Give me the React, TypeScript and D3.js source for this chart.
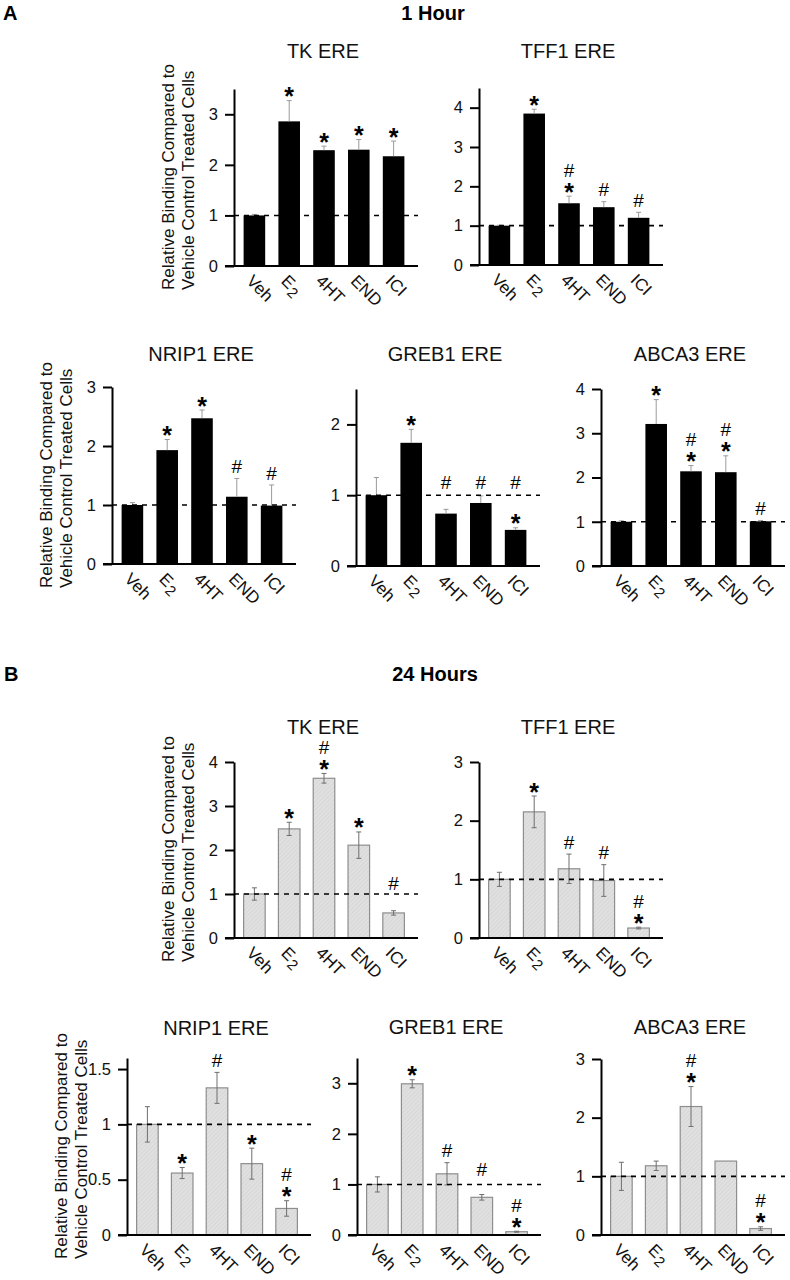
import { useRef, useEffect } from 'react';
import * as d3 from 'd3';

const categories = ['Veh', 'E2', '4HT', 'END', 'ICI'];

// 1 hour (black bars, upper error only)
const h1TkMean = [1.0, 2.86, 2.29, 2.3, 2.17];
const h1TkErr = [0.02, 0.41, 0.08, 0.2, 0.3];
const h1TkMarks = ['', '*', '*', '*', '*'];

const h1Tff1Mean = [1.0, 3.85, 1.57, 1.47, 1.2];
const h1Tff1Err = [0.01, 0.11, 0.18, 0.14, 0.14];
const h1Tff1Marks = ['', '*', '#*', '#', '#'];

const h1Nrip1Mean = [1.0, 1.93, 2.47, 1.14, 0.99];
const h1Nrip1Err = [0.04, 0.18, 0.14, 0.31, 0.35];
const h1Nrip1Marks = ['', '*', '*', '#', '#'];

const h1Greb1Mean = [1.0, 1.74, 0.74, 0.89, 0.51];
const h1Greb1Err = [0.25, 0.19, 0.06, 0.1, 0.03];
const h1Greb1Marks = ['', '*', '#', '#', '#*'];
const h1Greb1HashAt = [null, null, 1.18, 1.18, 1.18];

const h1Abca3Mean = [1.0, 3.21, 2.14, 2.12, 1.01];
const h1Abca3Err = [0.02, 0.55, 0.13, 0.37, 0.02];
const h1Abca3Marks = ['', '*', '#*', '#*', '#'];

// 24 hours (hatched bars, +/- error)
const h24TkMean = [1.0, 2.48, 3.63, 2.11, 0.57];
const h24TkErr = [0.14, 0.15, 0.11, 0.3, 0.05];
const h24TkMarks = ['', '*', '#*', '*', '#'];
const h24TkHashAt = [null, null, null, null, 1.23];

const h24Tff1Mean = [1.0, 2.15, 1.18, 0.98, 0.17];
const h24Tff1Err = [0.12, 0.27, 0.25, 0.27, 0.015];
const h24Tff1Marks = ['', '*', '#', '#', '#*'];

const h24Nrip1Mean = [1.0, 0.56, 1.33, 0.645, 0.24];
const h24Nrip1Err = [0.16, 0.05, 0.14, 0.14, 0.07];
const h24Nrip1Marks = ['', '*', '#', '*', '#*'];

const h24Greb1Mean = [1.0, 2.99, 1.21, 0.745, 0.065];
const h24Greb1Err = [0.15, 0.08, 0.22, 0.055, 0.01];
const h24Greb1Marks = ['', '*', '#', '#', '#*'];
const h24Greb1HashAt = [null, null, null, 1.29, null];

const h24Abca3Mean = [1.0, 1.18, 2.19, 1.26, 0.11];
const h24Abca3Err = [0.24, 0.08, 0.34, 0, 0.03];
const h24Abca3Marks = ['', '', '#*', '', '#*'];

const FONT = 'Liberation Sans, Arial, Helvetica, sans-serif';

const panels = [
  { title: 'TK ERE', titleY: 58, axisX: 234, y0: 266, yTop: 89, yMax: 3.5, ticks: [0, 1, 2, 3], mean: h1TkMean, err: h1TkErr, marks: h1TkMarks, yLabel: true, solid: true },
  { title: 'TFF1 ERE', titleY: 58, axisX: 479, y0: 265, yTop: 88, yMax: 4.5, ticks: [0, 1, 2, 3, 4], mean: h1Tff1Mean, err: h1Tff1Err, marks: h1Tff1Marks, solid: true },
  { title: 'NRIP1 ERE', titleY: 361, axisX: 112, y0: 564, yTop: 387, yMax: 3, ticks: [0, 1, 2, 3], mean: h1Nrip1Mean, err: h1Nrip1Err, marks: h1Nrip1Marks, yLabel: true, solid: true },
  { title: 'GREB1 ERE', titleY: 361, axisX: 356, y0: 566, yTop: 389, yMax: 2.5, ticks: [0, 1, 2], mean: h1Greb1Mean, err: h1Greb1Err, marks: h1Greb1Marks, hashAt: h1Greb1HashAt, solid: true },
  { title: 'ABCA3 ERE', titleY: 361, axisX: 601, y0: 566, yTop: 389, yMax: 4, ticks: [0, 1, 2, 3, 4], mean: h1Abca3Mean, err: h1Abca3Err, marks: h1Abca3Marks, solid: true },
  { title: 'TK ERE', titleY: 734, axisX: 234, y0: 938, yTop: 762, yMax: 4, ticks: [0, 1, 2, 3, 4], mean: h24TkMean, err: h24TkErr, marks: h24TkMarks, hashAt: h24TkHashAt, yLabel: true },
  { title: 'TFF1 ERE', titleY: 734, axisX: 479, y0: 938, yTop: 762, yMax: 3, ticks: [0, 1, 2, 3], mean: h24Tff1Mean, err: h24Tff1Err, marks: h24Tff1Marks },
  { title: 'NRIP1 ERE', titleY: 1035, axisX: 127, y0: 1235, yTop: 1058, yMax: 1.6, ticks: [0, 0.5, 1, 1.5], mean: h24Nrip1Mean, err: h24Nrip1Err, marks: h24Nrip1Marks, yLabel: true },
  { title: 'GREB1 ERE', titleY: 1034, axisX: 357, y0: 1235, yTop: 1058, yMax: 3.5, ticks: [0, 1, 2, 3], mean: h24Greb1Mean, err: h24Greb1Err, marks: h24Greb1Marks, hashAt: h24Greb1HashAt },
  { title: 'ABCA3 ERE', titleY: 1034, axisX: 601, y0: 1235, yTop: 1059, yMax: 3, ticks: [0, 1, 2, 3], mean: h24Abca3Mean, err: h24Abca3Err, marks: h24Abca3Marks },
];

function drawPanel(svg: any, p: any) {
  const x = d3.scaleBand().domain(categories).range([p.axisX + 3, p.axisX + 177]).paddingInner(0.38).paddingOuter(0.19);
  const y = d3.scaleLinear().domain([0, p.yMax]).range([p.y0, p.yTop]);
  const g = svg.append('g');
  const cx = (i: number) => (x(categories[i]) as number) + x.bandwidth() / 2;

  g.selectAll('rect')
    .data(p.mean)
    .join('rect')
    .attr('x', (_d: number, i: number) => x(categories[i]))
    .attr('y', (d: number) => y(d))
    .attr('width', x.bandwidth())
    .attr('height', (d: number) => y(0) - y(d))
    .attr('fill', p.solid ? '#000' : 'url(#hatch)')
    .attr('stroke', p.solid ? 'none' : '#8e8e8e')
    .attr('stroke-width', 1.2);

  // error bars
  const eg = g.append('g').attr('stroke', p.solid ? '#9a9a9a' : '#6e6e6e').attr('stroke-width', 1);
  p.mean.forEach((m: number, i: number) => {
    const e = p.err[i];
    if (!e) return;
    const lo = p.solid ? m : m - e;
    const hi = m + e;
    const c = cx(i);
    eg.append('line').attr('x1', c).attr('x2', c).attr('y1', y(lo)).attr('y2', y(hi));
    eg.append('line').attr('x1', c - 2.5).attr('x2', c + 2.5).attr('y1', y(hi)).attr('y2', y(hi));
    if (!p.solid) eg.append('line').attr('x1', c - 2.5).attr('x2', c + 2.5).attr('y1', y(lo)).attr('y2', y(lo));
  });

  // reference line at 1
  g.append('line')
    .attr('x1', p.axisX).attr('x2', p.axisX + 184)
    .attr('y1', y(1)).attr('y2', y(1))
    .attr('stroke', '#000').attr('stroke-width', 1.6).attr('stroke-dasharray', '5,5');

  // axes
  const ax = g.append('g')
    .attr('transform', `translate(${p.axisX},0)`)
    .call(d3.axisLeft(y).tickValues(p.ticks).tickSize(9).tickSizeOuter(0).tickPadding(7).tickFormat(d3.format('~g')));
  ax.attr('font-family', FONT).attr('font-size', 16.5);
  ax.selectAll('path,line').attr('stroke', '#000').attr('stroke-width', 2);
  ax.selectAll('text').attr('fill', '#111');

  g.append('line')
    .attr('x1', p.axisX - 9).attr('x2', p.axisX + 184)
    .attr('y1', p.y0).attr('y2', p.y0)
    .attr('stroke', '#000').attr('stroke-width', 2);

  // category labels
  categories.forEach((c, i) => {
    const tx = cx(i) - 9;
    const ty = p.y0 + 16;
    const t = g.append('text')
      .attr('transform', `translate(${tx},${ty}) rotate(45)`)
      .attr('font-family', FONT).attr('font-size', 17).attr('fill', '#111');
    if (c === 'E2') {
      t.append('tspan').text('E');
      t.append('tspan').attr('font-size', 15).attr('dy', 4).attr('dx', 1).text('2');
    } else {
      t.text(c);
    }
  });

  // significance marks
  p.marks.forEach((mk: string, i: number) => {
    if (!mk) return;
    const top = y(p.mean[i] + p.err[i]);
    const c = cx(i);
    const hasStar = mk.includes('*');
    const hasHash = mk.includes('#');
    if (hasStar) {
      g.append('text').attr('x', c).attr('y', top - 9 + 13.5)
        .attr('text-anchor', 'middle').attr('font-family', FONT).attr('font-weight', 'bold')
        .attr('font-size', 25).text('*');
    }
    if (hasHash) {
      const over = p.hashAt && p.hashAt[i] != null ? y(p.hashAt[i]) : null;
      const center = over != null ? over : top - (hasStar ? 26 : 12);
      g.append('text').attr('x', c).attr('y', center + 6.6)
        .attr('text-anchor', 'middle').attr('font-family', FONT)
        .attr('font-size', 19).text('#');
    }
  });

  // title
  g.append('text').attr('x', p.axisX + 89).attr('y', p.titleY)
    .attr('text-anchor', 'middle').attr('font-family', FONT).attr('font-size', 20).attr('fill', '#111')
    .text(p.title);

  if (p.yLabel) {
    const lines = ['Relative Binding Compared to', 'Vehicle Control Treated Cells'];
    lines.forEach((l, k) => {
      g.append('text')
        .attr('transform', `translate(${p.axisX - 60 + k * 20},${p.y0 + 24}) rotate(-90)`)
        .attr('font-family', FONT).attr('font-size', 17).attr('fill', '#111')
        .text(l);
    });
  }
}

export default function App() {
  const ref = useRef<SVGSVGElement>(null);

  useEffect(() => {
    if (!ref.current) return;
    const svg = d3.select(ref.current);
    svg.selectAll('*').remove();

    const pat = svg.append('defs').append('pattern')
      .attr('id', 'hatch').attr('patternUnits', 'userSpaceOnUse')
      .attr('width', 3).attr('height', 3).attr('patternTransform', 'rotate(45)');
    pat.append('rect').attr('width', 3).attr('height', 3).attr('fill', '#e0e0e0');
    pat.append('line').attr('x1', 0).attr('x2', 0).attr('y1', 0).attr('y2', 3).attr('stroke', '#cfcfcf').attr('stroke-width', 1);

    const head = (t: string, xx: number, yy: number, anchor: string) =>
      svg.append('text').attr('x', xx).attr('y', yy).attr('text-anchor', anchor)
        .attr('font-family', FONT).attr('font-weight', 'bold').attr('font-size', 20).text(t);
    head('A', 3, 20, 'start');
    head('1 Hour', 433, 20, 'middle');
    head('B', 4, 681, 'start');
    head('24 Hours', 435, 681, 'middle');

    panels.forEach(p => drawPanel(svg, p));
  }, []);

  return <svg ref={ref} width={790} height={1280} style={{ position: 'absolute', left: 0, top: 0, background: '#fff' }} />;
}
